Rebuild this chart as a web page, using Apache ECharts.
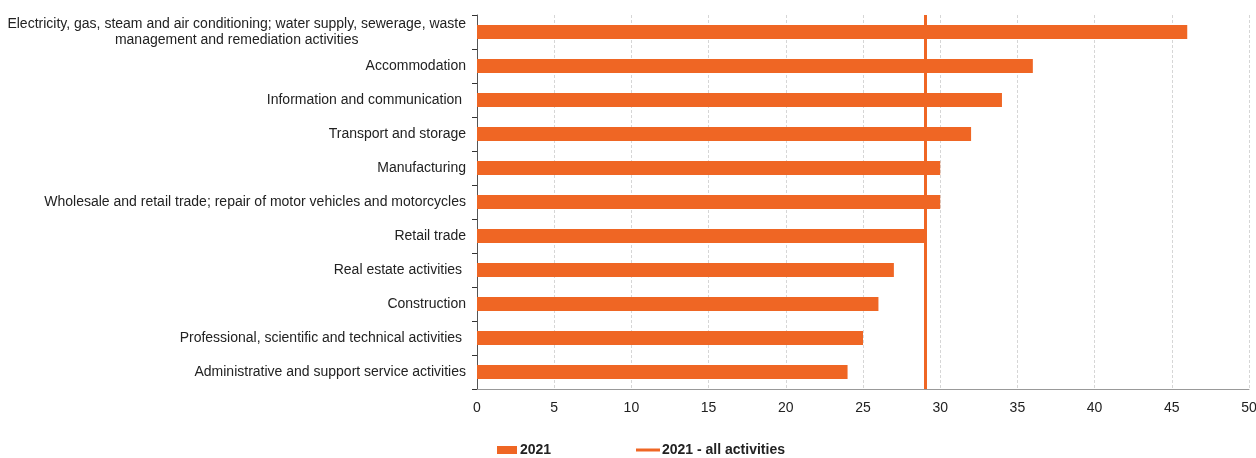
<!DOCTYPE html>
<html>
<head>
<meta charset="utf-8">
<script src="https://cdn.jsdelivr.net/npm/echarts@6/dist/echarts.min.js"></script>
<style>
  html, body { margin: 0; padding: 0; background: #fff; }
  #chart { width: 1256px; height: 458px; }
</style>
</head>
<body>
<div id="chart"></div>
<script>
// activities, top to bottom
const categories = [
    'Electricity, gas, steam and air conditioning; water supply, sewerage, waste\nmanagement and remediation activities',
    'Accommodation',
    'Information and communication ',
    'Transport and storage',
    'Manufacturing',
    'Wholesale and retail trade; repair of motor vehicles and motorcycles',
    'Retail trade',
    'Real estate activities ',
    'Construction',
    'Professional, scientific and technical activities ',
    'Administrative and support service activities'
];
const values2021 = [46, 36, 34, 32, 30, 30, 29, 27, 26, 25, 24];
const allActivities = [29]; // 2021 - all activities
const xTicks = [0, 50, 5]; // min, max, interval

const ORANGE = '#EF6624';
let chart = echarts.init(document.getElementById('chart'));

let option = {
    animation: false,
    textStyle: { fontFamily: 'Liberation Sans, Arial, sans-serif' },
    grid: { left: 477, right: 7, top: 15, bottom: 69, containLabel: false, outerBoundsMode: 'none' },
    legend: [{
        left: 492,
        bottom: -4,
        itemWidth: 20,
        itemHeight: 8,
        textStyle: { fontSize: 14, fontWeight: 'bold', color: '#222', padding: [0, 0, 0, -2] },
        data: [{ name: '2021', icon: 'rect' }]
    }, {
        left: 631,
        bottom: -4,
        itemWidth: 24,
        itemHeight: 3,
        textStyle: { fontSize: 14, fontWeight: 'bold', color: '#222', padding: [0, 0, 0, -3] },
        data: [{ name: '2021 - all activities', icon: 'rect' }]
    }],
    xAxis: {
        type: 'value',
        min: xTicks[0],
        max: xTicks[1],
        interval: xTicks[2],
        axisLine: { show: true, lineStyle: { color: '#999', width: 1 } },
        axisTick: { show: false },
        axisLabel: { color: '#222', fontSize: 14, margin: 12 },
        splitLine: { show: true, lineStyle: { color: '#d6d6d6', type: [3, 2] } }
    },
    yAxis: {
        type: 'category',
        inverse: true,
        data: categories,
        axisLine: { show: true, lineStyle: { color: '#555', width: 1 } },
        axisTick: { show: true, length: 5, lineStyle: { color: '#333' } },
        axisLabel: {
            color: '#222',
            fontSize: 14,
            margin: 11,
            lineHeight: 16,
            formatter: function (v) {
                if (v.indexOf('\n') >= 0) {
                    return v.split('\n').map(function (s) { return '{c|' + s + '}'; }).join('\n');
                }
                return v;
            },
            rich: { c: { align: 'center', fontSize: 14, color: '#222', lineHeight: 16 } }
        },
        splitLine: { show: false }
    },
    series: [
        {
            name: '2021',
            type: 'bar',
            data: values2021,
            barWidth: 14,
            itemStyle: { color: ORANGE },
            z: 2
        },
        {
            name: '2021 - all activities',
            type: 'line',
            data: [],
            symbol: 'none',
            lineStyle: { color: ORANGE, width: 3 },
            itemStyle: { color: ORANGE },
            markLine: {
                silent: true,
                symbol: 'none',
                label: { show: false },
                lineStyle: { color: ORANGE, width: 3, type: 'solid' },
                data: allActivities.map(function (v) { return { xAxis: v }; })
            },
            z: 3
        }
    ]
};
chart.setOption(option);
</script>
</body>
</html>
